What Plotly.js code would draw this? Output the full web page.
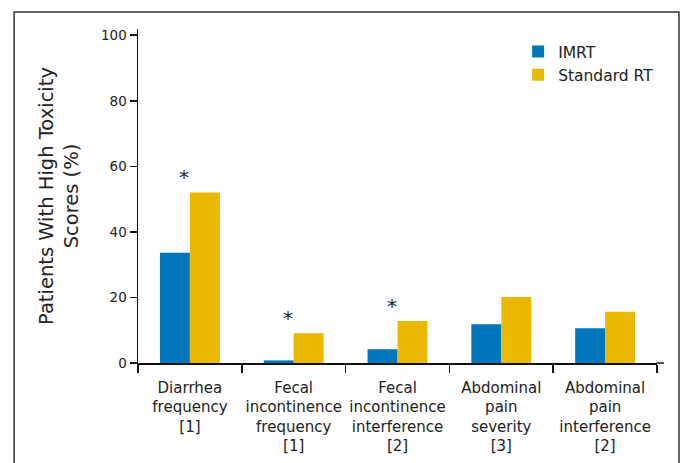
<!DOCTYPE html>
<html>
<head>
<meta charset="utf-8">
<script src="https://cdn.plot.ly/plotly-3.0.1.min.js"></script>
<style>
  html, body { margin: 0; padding: 0; background: #ffffff; }
  #chart { width: 685px; height: 463px; }
</style>
</head>
<body>
<div id="chart"></div>
<script>
// ---- data ----
var categories = [
  'Diarrhea<br>frequency<br>[1]',
  'Fecal<br>incontinence<br>frequency<br>[1]',
  'Fecal<br>incontinence<br>interference<br>[2]',
  'Abdominal<br>pain<br>severity<br>[3]',
  'Abdominal<br>pain<br>interference<br>[2]'
];
var imrtValues = [33.6, 0.8, 4.2, 11.8, 10.6];
var standardValues = [52.0, 9.1, 12.8, 20.1, 15.6];
var sigMarks = ['*', '*', '*', '', ''];
var sigY = [56.7, 13.7, 17.3, null, null];
var yTickValues = [0, 20, 40, 60, 80, 100];
var seriesNames = ['IMRT', 'Standard RT'];

var FONT = 'DejaVu Sans, Liberation Sans, Arial, sans-serif';
var BLUE = '#0076bd';
var GOLD = '#e9b900';

var traces = [
  { type: 'bar', name: seriesNames[0], x: categories, y: imrtValues,
    marker: { color: BLUE, line: { width: 0 } }, legendgroup: 'a' },
  { type: 'bar', name: seriesNames[1], x: categories, y: standardValues,
    marker: { color: GOLD, line: { width: 0 } }, legendgroup: 'b' }
];

var annotations = [];
for (var i = 0; i < categories.length; i++) {
  if (sigMarks[i] && sigY[i] !== null) {
    annotations.push({
      x: categories[i], y: sigY[i], xref: 'x', yref: 'y',
      text: sigMarks[i], showarrow: false, xshift: -6,
      yanchor: 'middle', xanchor: 'center',
      font: { family: FONT, size: 20, color: '#222222' }
    });
  }
}

var ml = 137.5, mr = 28, mt = 29, mb = 100.3;
var pw = 685 - ml - mr, ph = 463 - mt - mb;
function px2x(px) { return (px - ml) / pw; }
function py2y(py) { return (463 - mb - py) / ph; }

var layout = {
  width: 685, height: 463,
  margin: { l: ml, r: mr, t: mt, b: mb, pad: 0 },
  paper_bgcolor: '#ffffff', plot_bgcolor: '#ffffff',
  font: { family: FONT, color: '#222222' },
  barmode: 'group',
  bargap: 0.423, bargroupgap: 0,
  showlegend: true,
  legend: {
    x: px2x(518), y: py2y(35), xanchor: 'left', yanchor: 'top',
    font: { family: FONT, size: 15.5, color: '#222222' },
    bgcolor: 'rgba(0,0,0,0)', traceorder: 'normal', tracegroupgap: 8
  },
  xaxis: {
    type: 'category', automargin: false, tickangle: 0,
    showline: true, linecolor: '#111111', linewidth: 1.5,
    ticks: 'outside', tickson: 'boundaries', ticklen: 8, tickwidth: 1.5, tickcolor: '#111111',
    ticklabelstandoff: 10,
    showgrid: false, zeroline: false,
    tickfont: { family: FONT, size: 15, color: '#222222' },
    fixedrange: true
  },
  yaxis: {
    range: [0, 101.9], automargin: false,
    tickvals: yTickValues, ticktext: yTickValues.map(String),
    showline: true, linecolor: '#111111', linewidth: 1.5,
    ticks: 'outside', ticklen: 7, tickwidth: 1.5, tickcolor: '#111111',
    showgrid: false, zeroline: false,
    tickfont: { family: FONT, size: 13.5, color: '#222222' },
    title: { text: 'Patients With High Toxicity<br>Scores (%)',
             font: { family: FONT, size: 19.5, color: '#222222' }, standoff: 17 },
    fixedrange: true
  },
  annotations: annotations,
  shapes: [
    { type: 'rect', xref: 'paper', yref: 'paper',
      x0: px2x(13.5), x1: px2x(679), y0: py2y(480), y1: py2y(12),
      line: { color: '#333333', width: 1.5 }, fillcolor: 'rgba(0,0,0,0)', layer: 'below' },
    { type: 'line', xref: 'paper', yref: 'paper',
      x0: 1, x1: px2x(664), y0: 0, y1: 0,
      line: { color: '#111111', width: 1.5 } }
  ]
};

Plotly.newPlot('chart', traces, layout, { displayModeBar: false, staticPlot: true });
</script>
</body>
</html>
